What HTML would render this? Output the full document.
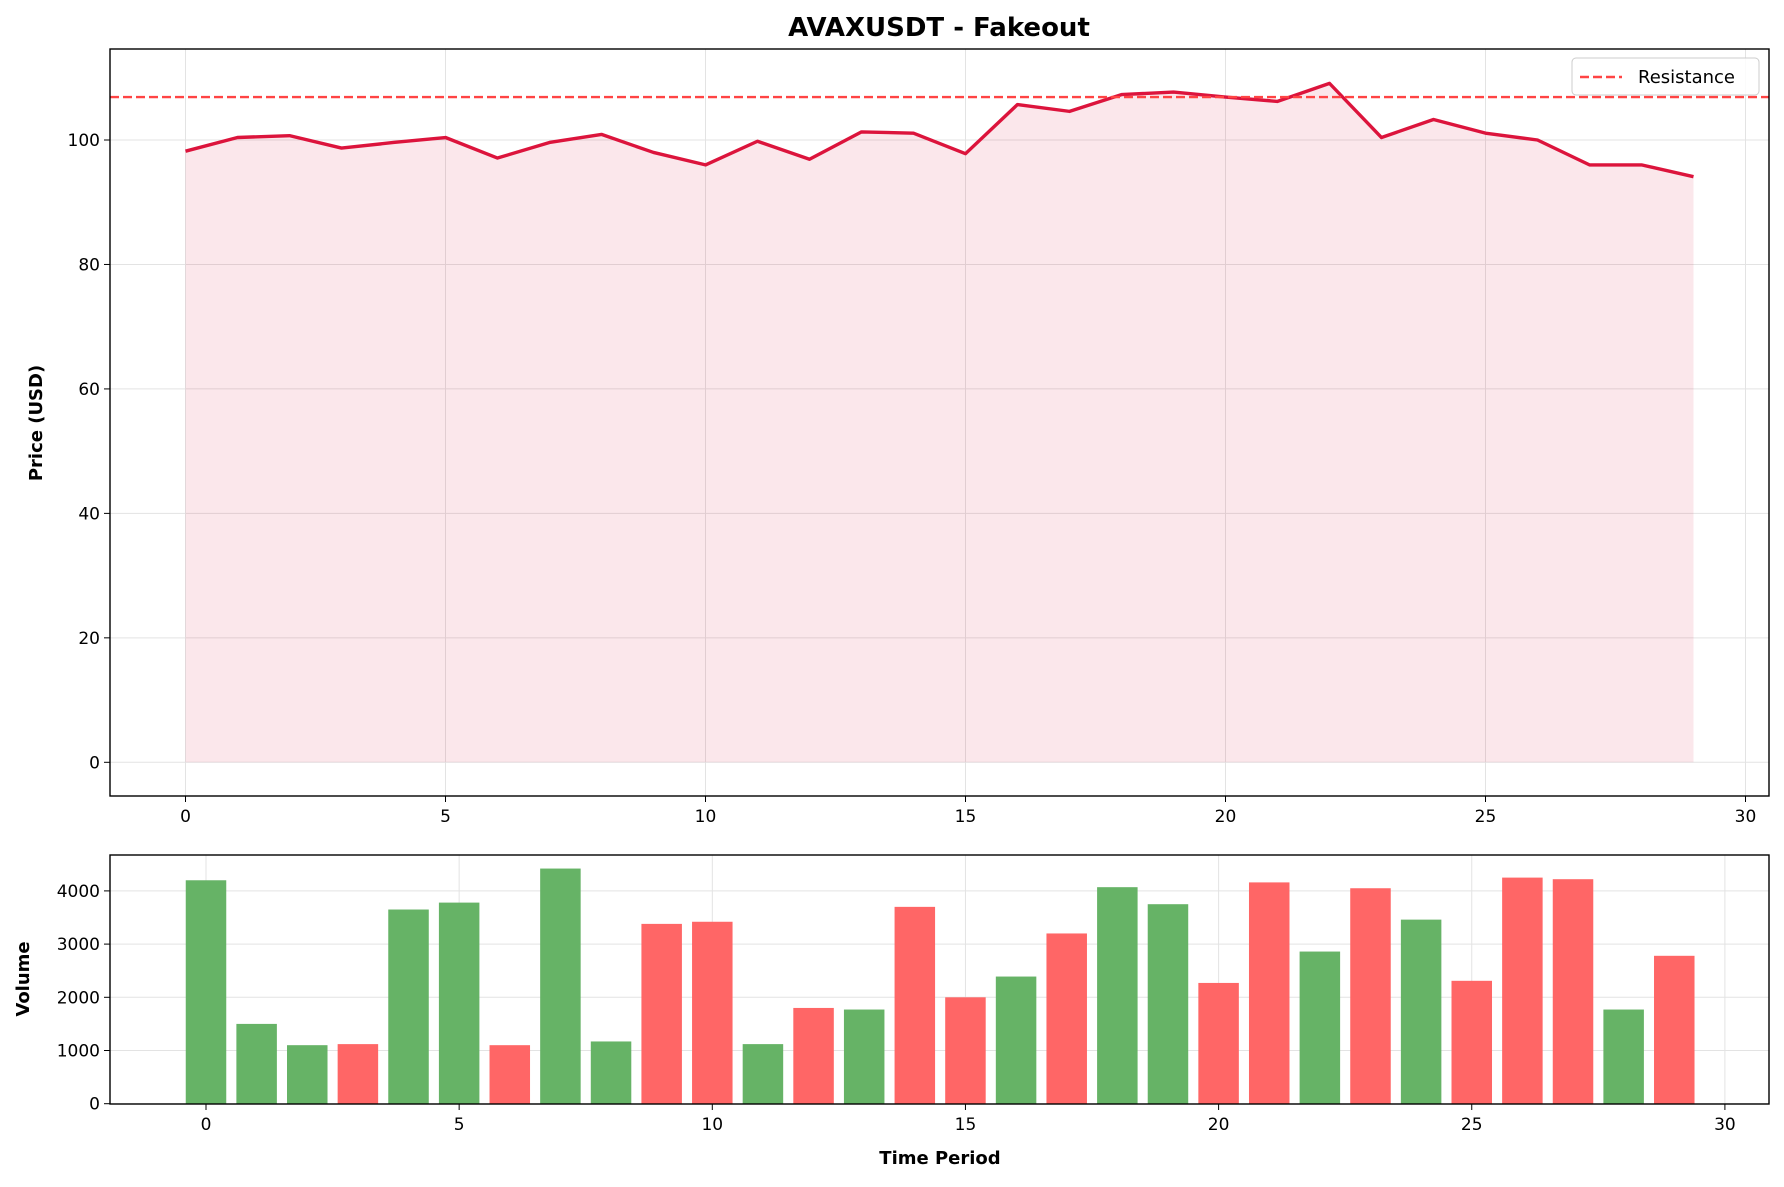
<!DOCTYPE html>
<html><head><meta charset="utf-8"><style>
body{margin:0;background:#fff;}
svg text{font-family:"DejaVu Sans","Liberation Sans",sans-serif;fill:#000;}
</style></head><body>
<svg id="chart" width="1784" height="1182" xmlns="http://www.w3.org/2000/svg"></svg>
<script>
const periods=[0,1,2,3,4,5,6,7,8,9,10,11,12,13,14,15,16,17,18,19,20,21,22,23,24,25,26,27,28,29];
const prices=[98.2,100.4,100.7,98.7,99.6,100.4,97.1,99.6,100.9,98.0,96.0,99.8,96.9,101.3,101.1,97.8,105.7,104.6,107.3,107.7,106.9,106.2,109.1,100.4,103.3,101.1,100.0,96.0,96.0,94.1];
const volumes=[4200,1500,1100,1120,3650,3780,1100,4420,1170,3380,3420,1120,1800,1770,3700,2000,2390,3200,4070,3750,2270,4160,2860,4050,3460,2310,4250,4220,1770,2780];
const volUp=[1,1,1,0,1,1,0,1,1,0,0,1,0,1,0,0,1,0,1,1,0,0,1,0,1,0,0,0,1,0];
const resistance=106.9;
const xTicks=[0,5,10,15,20,25,30];
const priceTicks=[0,20,40,60,80,100];
const volTicks=[0,1000,2000,3000,4000];

const NS="http://www.w3.org/2000/svg";
const svg=document.getElementById('chart');
function el(t,a,txt){const e=document.createElementNS(NS,t);for(const k in a)e.setAttribute(k,a[k]);if(txt!==undefined)e.textContent=txt;svg.appendChild(e);return e;}

const T={l:110,r:1769,t:49,b:796};
const xT=v=>185.5+v*52.0;
const yT=v=>762.3-v*6.223;
const B={l:110,r:1769,t:855,b:1104};
const xB=v=>206+v*50.63;
const yB=v=>1103.7-v*0.0532;
const FS=17;

xTicks.forEach(v=>{const g=el('line',{x1:xT(v),x2:xT(v),y1:T.t,y2:T.b,stroke:'#e3e3e3','stroke-width':1});});
priceTicks.forEach(v=>{const g=el('line',{x1:T.l,x2:T.r,y1:yT(v),y2:yT(v),stroke:'#e3e3e3','stroke-width':1});});
let d=`M${xT(periods[0])},${yT(0)}`;periods.forEach((p,i)=>d+=` L${xT(p)},${yT(prices[i])}`);d+=` L${xT(periods[periods.length-1])},${yT(0)}Z`;
const fa=el('path',{d,fill:'rgba(220,20,60,0.1)'});


let ld='';periods.forEach((p,i)=>ld+=(i?' L':'M')+xT(p)+','+yT(prices[i]));
const pl=el('path',{d:ld,fill:'none',stroke:'#dc143c','stroke-width':3.4,'stroke-linejoin':'round'});


const rl=el('line',{x1:T.l,x2:T.r,y1:yT(resistance),y2:yT(resistance),stroke:'#ff4444','stroke-width':2.4,'stroke-dasharray':'9,4'});


const tf=el('rect',{x:T.l,y:T.t,width:T.r-T.l,height:T.b-T.t,fill:'none',stroke:'#000','stroke-width':1.4});


xTicks.forEach(v=>{el('line',{x1:xT(v),x2:xT(v),y1:T.b,y2:T.b+6,stroke:'#000'});const t=el('text',{x:xT(v),y:T.b+26,'text-anchor':'middle','font-size':FS},v);});
priceTicks.forEach(v=>{el('line',{x1:T.l-6,x2:T.l,y1:yT(v),y2:yT(v),stroke:'#000'});const t=el('text',{x:T.l-10,y:yT(v)+6,'text-anchor':'end','font-size':FS},v);});
const tt=el('text',{x:939,y:36,'text-anchor':'middle','font-size':26,'font-weight':'bold'},'AVAXUSDT - Fakeout');


const yl=el('text',{x:42,y:423,'text-anchor':'middle','font-size':18,'font-weight':'bold',transform:'rotate(-90 42 423)'},'Price (USD)');


const lg=el('rect',{x:1572,y:58,width:187,height:37,rx:4,fill:'#fff','fill-opacity':0.85,stroke:'#ccc'});


el('line',{x1:1580,x2:1622,y1:77,y2:77,stroke:'#ff4444','stroke-width':2.4,'stroke-dasharray':'9,4'});
const lt=el('text',{x:1638,y:83,'font-size':18},'Resistance');



xTicks.forEach(v=>{const g=el('line',{x1:xB(v),x2:xB(v),y1:B.t,y2:B.b,stroke:'#e3e3e3'});});
volTicks.forEach(v=>{const g=el('line',{x1:B.l,x2:B.r,y1:yB(v),y2:yB(v),stroke:'#e3e3e3'});});
periods.forEach((p,i)=>{const w=0.8*50.63;const b=el('rect',{x:xB(p)-w/2,y:yB(volumes[i]),width:w,height:yB(0)-yB(volumes[i]),fill:volUp[i]?'#66b366':'#ff6666'});

});
const bf=el('rect',{x:B.l,y:B.t,width:B.r-B.l,height:B.b-B.t,fill:'none',stroke:'#000','stroke-width':1.4});


xTicks.forEach(v=>{el('line',{x1:xB(v),x2:xB(v),y1:B.b,y2:B.b+6,stroke:'#000'});const t=el('text',{x:xB(v),y:B.b+26,'text-anchor':'middle','font-size':FS},v);});
volTicks.forEach(v=>{el('line',{x1:B.l-6,x2:B.l,y1:yB(v),y2:yB(v),stroke:'#000'});const t=el('text',{x:B.l-10,y:yB(v)+6,'text-anchor':'end','font-size':FS},v);});
const xl=el('text',{x:940,y:1164,'text-anchor':'middle','font-size':18,'font-weight':'bold'},'Time Period');


const vl=el('text',{x:29,y:979,'text-anchor':'middle','font-size':18,'font-weight':'bold',transform:'rotate(-90 29 979)'},'Volume');


</script>
</body></html>
